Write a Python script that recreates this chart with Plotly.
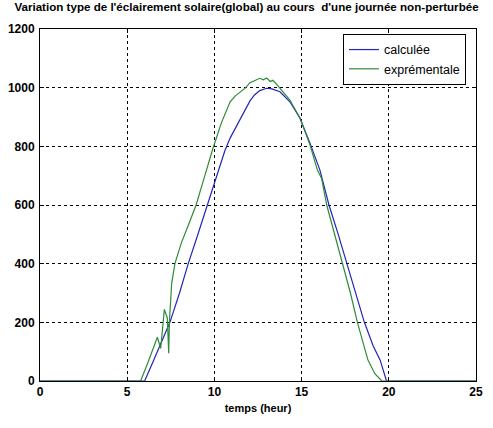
import plotly.graph_objects as go

# calculée (blue)
t_calc = [0, 6.0, 6.5, 7.0, 7.45, 8.0, 8.5, 9.0, 9.6, 10.2, 10.6, 10.9, 11.2, 11.47,
          11.75, 12.04, 12.3, 12.6, 13.0, 13.3, 13.76, 14.33, 14.9, 15.48, 16.05,
          16.57, 17.1, 17.6, 18.1, 18.6, 19.1, 19.5, 19.87, 25]
v_calc = [0, 0, 68, 140, 200, 300, 400, 490, 600, 715, 785, 828, 862, 890,
          925, 955, 975, 990, 998, 996, 986, 952, 897, 811, 719,
          600, 500, 400, 300, 200, 120, 72, 0, 0]

# exprémentale (green)
t_exp = [0, 5.77, 6.2, 6.5, 6.73, 6.92, 7.13, 7.3, 7.38, 7.42, 7.55, 7.74, 8.1,
         8.5, 8.95, 9.4, 9.9, 10.4, 10.9, 11.2, 11.47, 11.8, 12.04, 12.3, 12.6,
         12.8, 13.0, 13.2, 13.35, 13.5, 13.76, 14.33, 14.9, 15.48, 15.9, 16.05,
         16.15, 16.44, 16.9, 17.36, 17.8, 18.2, 18.8, 19.2, 19.6, 25]
v_exp = [0, 0, 65, 110, 149, 111, 244, 215, 95, 200, 333, 401, 470,
         530, 600, 690, 790, 880, 952, 972, 986, 1000, 1017, 1025, 1032,
         1027, 1033, 1021, 1025, 1016, 999, 958, 897, 805, 720, 705,
         690, 600, 500, 400, 300, 200, 72, 25, 0, 0]

x_ticks = [0, 5, 10, 15, 20, 25]
y_ticks = [0, 200, 400, 600, 800, 1000, 1200]

title_text = "Variation type de l'éclairement solaire(global) au cours  d'une journée non-perturbée"
x_title = "temps (heur)"

fig = go.Figure()
fig.add_trace(go.Scatter(x=t_calc, y=v_calc, mode="lines", name="calculée",
                         line=dict(color="#2424b8", width=1.2)))
fig.add_trace(go.Scatter(x=t_exp, y=v_exp, mode="lines", name="exprémentale",
                         line=dict(color="#2e8b3a", width=1.2)))

axis_common = dict(
    showline=True, linecolor="black", linewidth=1, mirror="ticks",
    ticks="inside", ticklen=4, tickcolor="black",
    showgrid=True, gridcolor="black", gridwidth=1, griddash="3px,3px",
    zeroline=False, automargin=False,
    tickfont=dict(family="Liberation Sans, Arial", size=12, color="black", weight="bold"),
)

fig.update_layout(
    width=493, height=428,
    margin=dict(l=40, r=17, t=29, b=47),
    paper_bgcolor="white", plot_bgcolor="white",
    title=dict(text=title_text, x=0.5, xanchor="center", y=1 - 3 / 428, yanchor="top",
               font=dict(family="Liberation Sans, Arial", size=11.6,
                         color="black", weight="bold")),
    xaxis=dict(range=[0, 25], tickvals=x_ticks,
               title=dict(text=x_title, standoff=5,
                          font=dict(family="Liberation Sans, Arial", size=11, color="black", weight="bold")),
               **axis_common),
    yaxis=dict(range=[0, 1200], tickvals=y_ticks, ticklabelstandoff=2, **axis_common),
    legend=dict(x=0.977, y=0.986, xanchor="right", yanchor="top",
                bgcolor="white", bordercolor="black", borderwidth=1,
                font=dict(family="Liberation Sans, Arial", size=12.5, color="black")),
    showlegend=True,
)

fig.write_html("out.html")
